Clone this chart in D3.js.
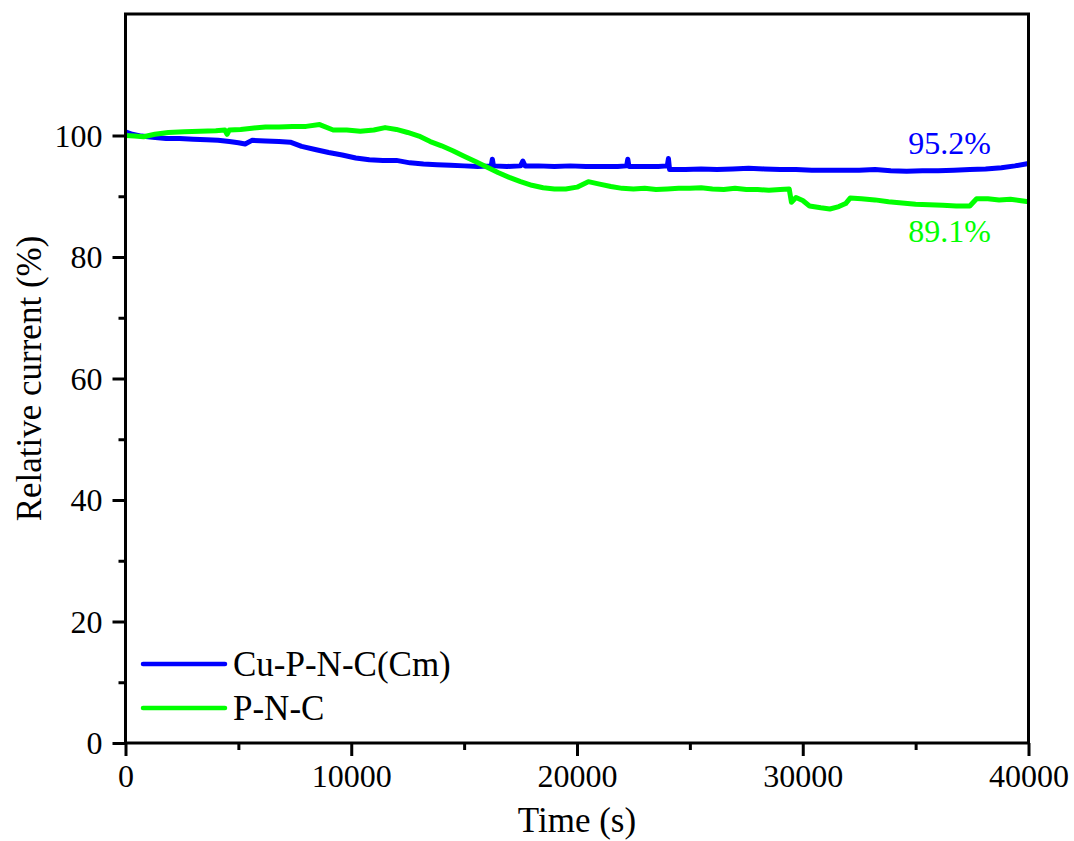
<!DOCTYPE html>
<html>
<head>
<meta charset="utf-8">
<script src="https://cdn.jsdelivr.net/npm/d3@7"></script>
<style>
  body { margin: 0; background: #fff; }
  text { font-family: "Liberation Serif", "Times New Roman", serif; }
</style>
</head>
<body>
<div id="chart"></div>
<script>
// Cu-P-N-C(Cm) series
const cuTime = [0, 300, 700, 1200, 1800, 2400, 3000, 3600, 4100, 4600, 5000, 5300, 5600, 6200, 6800, 7300,
  7800, 8400, 9000, 9600, 10200, 10800, 11400, 12000, 12600, 13200, 13800, 14400, 15000, 15600, 16200, 16250,
  16300, 16900, 17500, 17600, 17700, 18300, 19000, 19700, 20400, 21100, 21800, 22200, 22250, 22300, 23000,
  23600, 24000, 24050, 24100, 24800, 25500, 26200, 26900, 27600, 28300, 29000, 29700, 30400, 31100, 31800,
  32500, 33200, 33900, 34600, 35300, 36000, 36700, 37400, 38100, 38800, 39400, 40000];
const cuValue = [100.6, 100.2, 99.9, 99.7, 99.5, 99.5, 99.4, 99.3, 99.2, 99.0, 98.8, 98.6, 99.2, 99.1, 99.0, 98.9,
  98.2, 97.7, 97.2, 96.8, 96.3, 96.0, 95.9, 95.9, 95.5, 95.3, 95.2, 95.1, 95.0, 94.9, 95.0, 96.1,
  95.0, 94.9, 95.0, 95.8, 95.0, 95.0, 94.9, 95.0, 94.9, 94.9, 94.9, 95.0, 96.1, 94.9, 94.9,
  94.9, 95.0, 96.2, 94.4, 94.4, 94.5, 94.4, 94.5, 94.6, 94.5, 94.4, 94.4, 94.3, 94.3, 94.3,
  94.3, 94.4, 94.2, 94.1, 94.2, 94.2, 94.3, 94.4, 94.5, 94.7, 95.0, 95.4];

// P-N-C series
const pncTime = [0, 400, 800, 1300, 1900, 2600, 3300, 4000, 4400, 4500, 4600, 5100, 5600, 6200, 6800, 7400,
  8000, 8600, 9200, 9800, 10400, 11000, 11500, 12000, 12500, 13000, 13500, 14000, 14500, 15000, 15500, 16000,
  16500, 17000, 17500, 18000, 18500, 19000, 19500, 20000, 20500, 21000, 21500, 22000, 22500, 23000, 23500,
  24000, 24500, 25000, 25500, 26000, 26500, 27000, 27500, 28000, 28500, 29000, 29400, 29500, 29700, 30000,
  30300, 30800, 31200, 31600, 31900, 32100, 32600, 33200, 33800, 34400, 35000, 35600, 36200, 36800, 37400,
  37700, 38200, 38700, 39200, 39600, 40000];
const pncValue = [100.0, 99.9, 99.8, 100.2, 100.5, 100.6, 100.7, 100.8, 100.9, 100.2, 100.9, 101.0, 101.2, 101.4, 101.4, 101.5,
  101.5, 101.8, 100.9, 100.9, 100.7, 100.9, 101.3, 101.0, 100.5, 99.9, 99.0, 98.3, 97.5, 96.6, 95.7, 94.8,
  93.9, 93.1, 92.4, 91.8, 91.4, 91.2, 91.2, 91.5, 92.4, 92.0, 91.6, 91.3, 91.2, 91.3, 91.1,
  91.2, 91.3, 91.3, 91.4, 91.2, 91.1, 91.3, 91.1, 91.1, 91.0, 91.1, 91.2, 89.0, 89.8, 89.3,
  88.4, 88.1, 87.9, 88.3, 88.8, 89.7, 89.6, 89.4, 89.1, 88.9, 88.7, 88.6, 88.5, 88.4, 88.4,
  89.6, 89.6, 89.4, 89.5, 89.3, 89.1];

const seriesNames = ["Cu-P-N-C(Cm)", "P-N-C"];
const seriesColors = ["#0000ff", "#00ff00"];
const retention = ["95.2%", "89.1%"];
const xTicks = [0, 10000, 20000, 30000, 40000];
const xMinor = [5000, 15000, 25000, 35000];
const yTicks = [0, 20, 40, 60, 80, 100];
const yMinor = [10, 30, 50, 70, 90];

const W = 1074, H = 841;
const margin = { top: 14, right: 45.5, bottom: 98, left: 125.5 };
const width = W - margin.left - margin.right;
const height = H - margin.top - margin.bottom;

const svg = d3.select("#chart").append("svg")
    .attr("width", W)
    .attr("height", H);

const g = svg.append("g")
    .attr("transform", "translate(" + margin.left + "," + margin.top + ")");

const x = d3.scaleLinear().domain([0, 40000]).range([0, width]);
const y = d3.scaleLinear().domain([0, 120]).range([height, 0]);

const line = d3.line()
    .x(d => x(d.t))
    .y(d => y(d.v));

const toPts = (ts, vs) => ts.map((t, i) => ({ t: t, v: vs[i] }));
const series = [toPts(cuTime, cuValue), toPts(pncTime, pncValue)];

series.forEach((pts, i) => {
    g.append("path")
        .datum(pts)
        .attr("fill", "none")
        .attr("stroke", seriesColors[i])
        .attr("stroke-width", 5)
        .attr("stroke-linejoin", "round")
        .attr("d", line);
});

// axes: major ticks with labels, minor ticks in between
const xAxis = g.append("g")
    .attr("transform", "translate(0," + height + ")")
    .call(d3.axisBottom(x).tickValues(xTicks).tickSize(13).tickPadding(8).tickFormat(d3.format("d")));
g.append("g")
    .attr("transform", "translate(0," + height + ")")
    .call(d3.axisBottom(x).tickValues(xMinor).tickSize(7).tickFormat(""));

const yAxis = g.append("g")
    .call(d3.axisLeft(y).tickValues(yTicks).tickSize(13).tickPadding(10));
g.append("g")
    .call(d3.axisLeft(y).tickValues(yMinor).tickSize(7).tickFormat(""));

g.selectAll(".tick line").attr("stroke", "#000").attr("stroke-width", 3);
g.selectAll(".domain").remove();
g.selectAll(".tick text").attr("fill", "#000").style("font-size", "32px");
yAxis.selectAll(".tick text").attr("dy", "0.34em");
xAxis.selectAll(".tick text").attr("dy", "0.72em");

// frame
g.append("rect")
    .attr("width", width)
    .attr("height", height)
    .attr("fill", "none")
    .attr("stroke", "#000")
    .attr("stroke-width", 3);

// axis titles
svg.append("text")
    .attr("x", margin.left + width / 2)
    .attr("y", 832)
    .attr("text-anchor", "middle")
    .style("font-size", "35px")
    .text("Time (s)");

svg.append("text")
    .attr("transform", "translate(41," + (margin.top + height / 2) + ") rotate(-90)")
    .attr("text-anchor", "middle")
    .style("font-size", "35px")
    .text("Relative current (%)");

// end-point annotations
g.append("text")
    .attr("x", x(36500))
    .attr("y", y(96.9))
    .attr("text-anchor", "middle")
    .attr("fill", seriesColors[0])
    .style("font-size", "32px")
    .text(retention[0]);
g.append("text")
    .attr("x", x(36500))
    .attr("y", y(82.5))
    .attr("text-anchor", "middle")
    .attr("fill", seriesColors[1])
    .style("font-size", "32px")
    .text(retention[1]);

// legend
const legend = svg.append("g").attr("transform", "translate(143,664)");
seriesNames.forEach((name, i) => {
    legend.append("line")
        .attr("x1", 0).attr("x2", 82)
        .attr("y1", i * 44).attr("y2", i * 44)
        .attr("stroke", seriesColors[i])
        .attr("stroke-width", 4.5)
        .attr("stroke-linecap", "round");
    legend.append("text")
        .attr("x", 90)
        .attr("y", i * 44 + 12)
        .style("font-size", "35px")
        .text(name);
});
</script>
</body>
</html>
